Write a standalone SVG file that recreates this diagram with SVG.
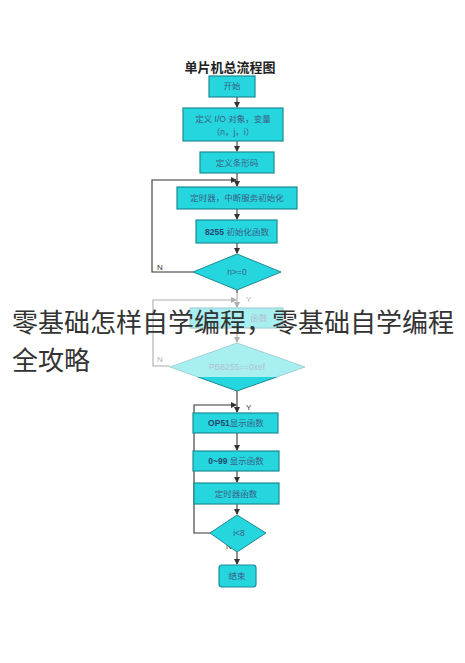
<svg xmlns="http://www.w3.org/2000/svg" width="465" height="663" viewBox="0 0 465 663">
<style>
.box{fill:#26d6de;stroke:#1b8a93;stroke-width:1.2}
.dia{fill:#26d6de;stroke:#1b8a93;stroke-width:1}
.t{font-family:"Liberation Sans","Noto Sans CJK SC",sans-serif;font-size:8.5px;fill:#3a5f86;text-anchor:middle}
.tb{font-weight:bold;fill:#24476e}
.c{fill:none;stroke:#333;stroke-width:1.1}
.lbl{font-family:"Liberation Sans","Noto Sans CJK SC",sans-serif;font-size:8px;fill:#333}
</style>
<defs>
<marker id="ah" markerWidth="6" markerHeight="6" refX="5" refY="3" orient="auto" markerUnits="userSpaceOnUse">
<path d="M0,0 L6,3 L0,6 z" fill="#333"/>
</marker>
</defs>
<rect width="465" height="663" fill="#fff"/>
<text x="230" y="72" font-family="'Noto Sans CJK SC',sans-serif" font-size="13" font-weight="bold" fill="#222" text-anchor="middle">单片机总流程图</text>

<g id="connectors">
<path class="c" d="M237,97 V107" marker-end="url(#ah)"/>
<path class="c" d="M237,141 V151" marker-end="url(#ah)"/>
<path class="c" d="M237,173 V186" marker-end="url(#ah)"/>
<path class="c" d="M237,209 V219" marker-end="url(#ah)"/>
<path class="c" d="M237,243 V253" marker-end="url(#ah)"/>
<path class="c" d="M193,272 H152 V180 H236" marker-end="url(#ah)"/>
<path class="c" d="M237,290 V307" marker-end="url(#ah)"/>
<path class="c" d="M237,328 V342" marker-end="url(#ah)"/>
<path class="c" d="M170,366 H153 V300 H236" marker-end="url(#ah)"/>
<path class="c" d="M237,391 V412" marker-end="url(#ah)"/>
<path class="c" d="M237,433 V450" marker-end="url(#ah)"/>
<path class="c" d="M237,471 V482" marker-end="url(#ah)"/>
<path class="c" d="M237,504 V514" marker-end="url(#ah)"/>
<path class="c" d="M210,533 H194 V405 H236" marker-end="url(#ah)"/>
<path class="c" d="M237,552 V564" marker-end="url(#ah)"/>
<text class="lbl" x="157" y="270">N</text>
<text class="lbl" x="246" y="302">Y</text>
<text class="lbl" x="157" y="362">N</text>
<text class="lbl" x="246" y="410">Y</text>
<text class="lbl" x="226" y="549">N</text>
</g>

<g id="start"><rect class="box" x="209" y="76" width="46" height="21"/><text class="t" x="232" y="89">开始</text></g>
<g id="define-io"><rect class="box" x="183" y="108" width="100" height="33"/><text class="t" x="233" y="122">定义 I/O 对象，变量</text><text class="t" x="233" y="135">（n，j，i）</text></g>
<g id="define-barcode"><rect class="box" x="200" y="152" width="74" height="21"/><text class="t" x="237" y="166">定义条形码</text></g>
<g id="timer-init"><rect class="box" x="177" y="187" width="120" height="22"/><text class="t" x="237" y="201">定时器，中断服务初始化</text></g>
<g id="init-8255"><rect class="box" x="196" y="220" width="81" height="23"/><text class="t" x="237" y="235"><tspan class="tb">8255</tspan> 初始化函数</text></g>
<g id="cond-n"><path class="dia" d="M237,254 L281,272 L237,290 L193,272 Z"/><text class="t" x="237" y="275">n&gt;=0</text></g>
<g id="func-box"><rect class="box" x="190" y="308" width="93" height="20"/><text class="t" x="259" y="321">函数</text></g>
<g id="cond-pb"><path class="dia" d="M237,343 L305,367 L237,391 L170,367 Z"/><text class="t" x="237" y="370">PB8255==0xef</text></g>
<g id="op51"><rect class="box" x="193" y="413" width="85" height="20"/><text class="t" x="236" y="426"><tspan class="tb">OP51</tspan>显示函数</text></g>
<g id="disp-099"><rect class="box" x="193" y="451" width="86" height="20"/><text class="t" x="236" y="464"><tspan class="tb">0~99</tspan> 显示函数</text></g>
<g id="timer-func"><rect class="box" x="194" y="483" width="85" height="21"/><text class="t" x="236" y="497">定时器函数</text></g>
<g id="cond-i"><path class="dia" d="M237,515 L266,533 L237,552 L210,533 Z"/><text class="t" x="239" y="536">i&lt;8</text></g>
<g id="end"><rect class="box" x="219" y="565" width="37" height="22" rx="3"/><text class="t" x="237" y="579">结束</text></g>

<rect x="0" y="293" width="465" height="84" fill="#fff" opacity="0.6"/>
<g id="overlay-title" font-family="'Noto Sans CJK SC',sans-serif" font-size="26" fill="#333">
<text x="12" y="332">零基础怎样自学编程，零基础自学编程</text>
<text x="12" y="370">全攻略</text>
</g>
</svg>
